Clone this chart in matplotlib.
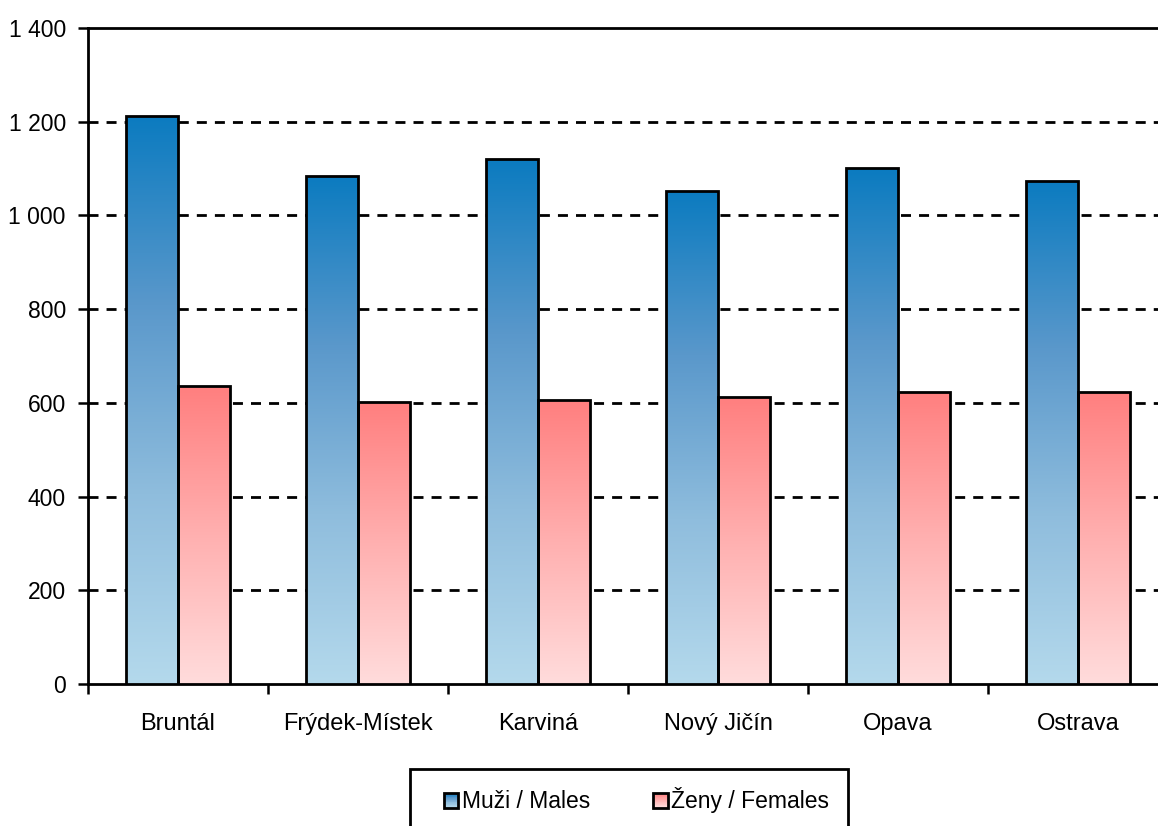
import numpy as np
import matplotlib
matplotlib.use("Agg")
import matplotlib.pyplot as plt
from matplotlib.patches import Rectangle
from matplotlib.colors import LinearSegmentedColormap
from matplotlib.legend_handler import HandlerBase
from matplotlib.ticker import FuncFormatter

plt.rcParams['font.family'] = ['Liberation Sans', 'DejaVu Sans']

districts = ["Bruntál", "Frýdek-Místek", "Karviná", "Nový Jičín", "Opava", "Ostrava"]
males = [1213, 1085, 1120, 1053, 1101, 1074]
females = [635, 601, 606, 612, 624, 623]
series_labels = ["Muži / Males", "Ženy / Females"]

blue_cmap = LinearSegmentedColormap.from_list("b", ["#b4d9ec", "#8fbddd", "#5a98cb", "#0b7bc0"])
red_cmap = LinearSegmentedColormap.from_list("r", ["#ffdcdc", "#ffb0b0", "#ff7f7f"])

fig = plt.figure(figsize=(11.58, 8.26), dpi=100)
ax = fig.add_axes([88 / 1158, 1 - 684 / 826, 1080 / 1158, 656 / 826])

x = np.arange(len(districts)) + 0.5
w = 0.29
grad = np.linspace(0, 1, 256).reshape(-1, 1)


def gradient_bars(xs, vals, cmap):
    bars = ax.bar(xs, vals, width=w, facecolor="none", edgecolor="black", linewidth=2.0, zorder=4)
    for b in bars:
        x0, y0 = b.get_x(), b.get_y()
        im = ax.imshow(grad, cmap=cmap, origin="lower", aspect="auto",
                       extent=[x0, x0 + b.get_width(), y0, y0 + b.get_height()], zorder=3)
        im.set_clip_path(b)
    return bars


gradient_bars(x - w / 2, males, blue_cmap)
gradient_bars(x + w / 2, females, red_cmap)

ax.set_xlim(0, 6)
ax.set_ylim(0, 1400)
ax.set_yticks(np.arange(0, 1401, 200))
ax.yaxis.set_major_formatter(FuncFormatter(lambda v, p: f"{int(v):,}".replace(",", " ")))
for yv in range(200, 1400, 200):
    ax.axhline(yv, color="black", linewidth=2.0, dashes=(3.6, 2.9), zorder=1)

ax.set_xticks(np.arange(0, 7))
ax.set_xticklabels([])
ax.set_xticks(x, minor=True)
ax.set_xticklabels(districts, minor=True)
ax.tick_params(axis="x", which="minor", length=0, pad=21, labelsize=17)
ax.tick_params(axis="x", which="major", length=7, width=1.8, direction="out")
ax.tick_params(axis="y", length=7, width=1.8, pad=9, labelsize=16.5)

for s in ["left", "bottom", "top"]:
    ax.spines[s].set_linewidth(2.0)
ax.spines["right"].set_visible(False)


class GradientHandler(HandlerBase):
    def __init__(self, cmap):
        super().__init__()
        self.cmap = cmap

    def create_artists(self, legend, orig_handle, xdescent, ydescent, width, height, fontsize, trans):
        side = height * 0.9
        x0 = -xdescent + width - side
        y0 = -ydescent + (height - side) / 2
        arts = []
        n = 20
        for i in range(n):
            r = Rectangle((x0, y0 + side * i / n), side, side / n + 0.3,
                          facecolor=self.cmap(i / (n - 1)), edgecolor="none", transform=trans)
            arts.append(r)
        arts.append(Rectangle((x0, y0), side, side, facecolor="none", edgecolor="black",
                              linewidth=2.0, transform=trans))
        return arts


h1 = Rectangle((0, 0), 1, 1)
h2 = Rectangle((0, 0), 1, 1)
leg = fig.legend([h1, h2], series_labels, loc="upper left",
                 bbox_to_anchor=(410 / 1158, 1 - 769 / 826), ncol=2, fontsize=16.5,
                 frameon=True, fancybox=False, edgecolor="black", framealpha=1, borderpad=0.8,
                 handlelength=1.3, handletextpad=0.15, columnspacing=2.1, borderaxespad=0,
                 handler_map={h1: GradientHandler(blue_cmap), h2: GradientHandler(red_cmap)})
leg.get_frame().set_linewidth(2.0)

fig.savefig("out.png", dpi=100)
